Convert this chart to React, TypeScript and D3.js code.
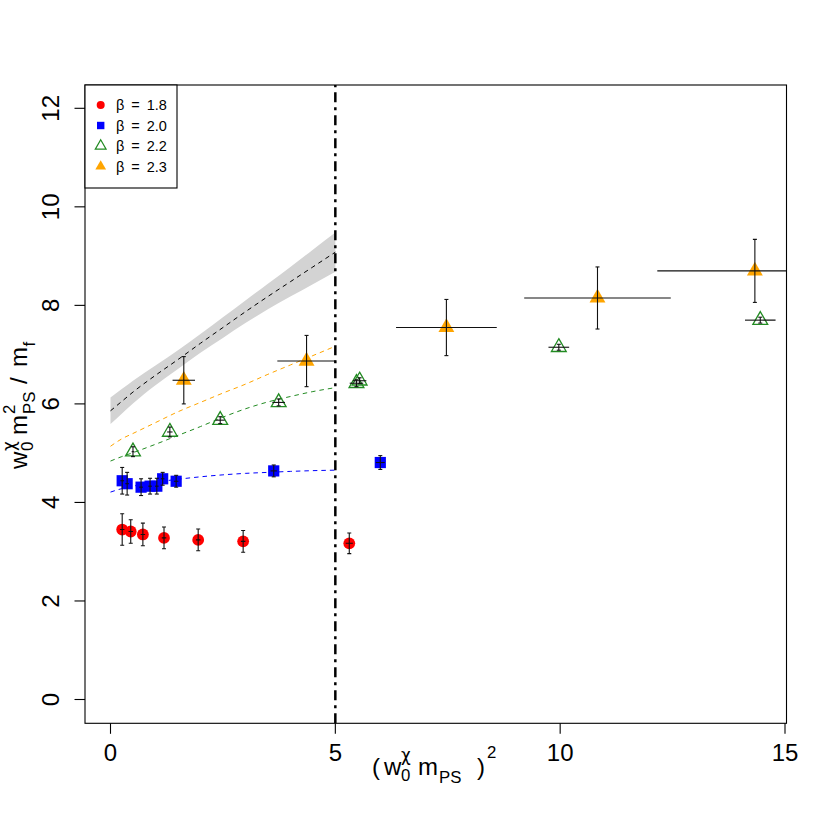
import React from 'react';
import * as d3 from 'd3';

// beta = 1.8 (red circles)
const b18X = [0.26, 0.45, 0.72, 1.19, 1.95, 2.95, 5.31];
const b18Y = [3.45, 3.41, 3.35, 3.28, 3.24, 3.21, 3.17];
const b18Ye = [0.32, 0.24, 0.23, 0.22, 0.22, 0.22, 0.21];
const b18Xe = [0.05, 0.05, 0.05, 0.05, 0.05, 0.05, 0.08];

// beta = 2.0 (blue squares)
const b20X = [0.26, 0.37, 0.68, 0.88, 1.03, 1.16, 1.46, 3.63, 6.0];
const b20Y = [4.44, 4.38, 4.31, 4.33, 4.33, 4.48, 4.43, 4.64, 4.81];
const b20Ye = [0.27, 0.23, 0.17, 0.16, 0.16, 0.13, 0.12, 0.12, 0.14];
const b20Xe = [0.04, 0.04, 0.04, 0.04, 0.04, 0.04, 0.05, 0.07, 0.1];

// beta = 2.2 (open green triangles)
const b22X = [0.5, 1.32, 2.44, 3.74, 5.47, 5.54, 9.97, 14.45];
const b22Y = [5.03, 5.43, 5.67, 6.03, 6.42, 6.47, 7.15, 7.7];
const b22Ye = [0.1, 0.1, 0.07, 0.07, 0.07, 0.06, 0.06, 0.06];
const b22Xe = [0.03, 0.06, 0.1, 0.14, 0.15, 0.15, 0.23, 0.34];

// beta = 2.3 (filled orange triangles)
const b23X = [1.63, 4.36, 7.47, 10.83, 14.33];
const b23Y = [6.48, 6.87, 7.55, 8.15, 8.7];
const b23Ye = [0.48, 0.52, 0.57, 0.63, 0.64];
const b23Xe = [0.25, 0.65, 1.12, 1.63, 2.17];

// fit curves
const fitX = [0, 0.25, 0.5, 1, 1.5, 2, 2.5, 3, 3.5, 4, 4.5, 5];
const fitB20 = [4.21, 4.28, 4.33, 4.41, 4.47, 4.52, 4.56, 4.59, 4.61, 4.63, 4.645, 4.655];
const fitB22 = [4.84, 4.93, 5.01, 5.18, 5.36, 5.54, 5.73, 5.9, 6.04, 6.15, 6.25, 6.33];
const fitB23 = [5.14, 5.29, 5.4, 5.62, 5.84, 6.03, 6.22, 6.4, 6.6, 6.79, 6.98, 7.17];
const fitCont = [5.86, 6.05, 6.24, 6.58, 6.9, 7.23, 7.55, 7.87, 8.18, 8.48, 8.78, 9.08];
const bandUpper = [6.13, 6.3, 6.47, 6.78, 7.09, 7.42, 7.76, 8.1, 8.44, 8.78, 9.13, 9.48];
const bandLower = [5.59, 5.8, 6.01, 6.38, 6.71, 7.04, 7.34, 7.64, 7.92, 8.18, 8.43, 8.68];

const xTicks = [0, 5, 10, 15];
const yTicks = [0, 2, 4, 6, 8, 10, 12];
const legendLabels = ['β \u2009= \u20091.8', 'β \u2009= \u20092.0', 'β \u2009= \u20092.2', 'β \u2009= \u20092.3'];
const cutX = 5;

const FONT = 'Liberation Sans, Arial, Helvetica, sans-serif';
const GREEKFONT = 'DejaVu Sans, Liberation Sans, sans-serif';
const RED = '#ff0000';
const BLUE = '#0000ff';
const GREEN = '#228b22';
const ORANGE = '#ffa500';

const PL = 85, PR = 786.5, PT = 85, PB = 723.3;

function triPath(cx: number, cy: number, xc: number) {
  return `M${cx},${cy - 1.555 * xc}L${cx + 1.3468 * xc},${cy + 0.7776 * xc}L${cx - 1.3468 * xc},${cy + 0.7776 * xc}Z`;
}

export default function App() {
  const x = d3.scaleLinear().domain([0, 15]).range([110.5, 785]);
  const y = d3.scaleLinear().domain([0, 12]).range([699.5, 108.3]);

  const line = (ys: number[]) =>
    d3.line<number>().x((_, i) => x(fitX[i])).y((d) => y(d)).curve(d3.curveMonotoneX)(ys) || '';
  const band = d3
    .area<number>()
    .x((_, i) => x(fitX[i]))
    .y0((_, i) => y(bandLower[i]))
    .y1((_, i) => y(bandUpper[i]))
    .curve(d3.curveMonotoneX)(fitX) || '';

  const errBars = (xs: number[], ys: number[], xe: number[], ye: number[], key: string) =>
    xs.map((xv, i) => {
      const cx = x(xv), cy = y(ys[i]);
      const y1 = y(ys[i] + ye[i]), y2 = y(ys[i] - ye[i]);
      const x1 = x(xv - xe[i]), x2 = x(xv + xe[i]);
      return (
        <g key={key + i} stroke="#111" strokeWidth={1.1} fill="none">
          <line x1={cx} x2={cx} y1={y1} y2={y2} />
          <line x1={cx - 2} x2={cx + 2} y1={y1} y2={y1} />
          <line x1={cx - 2} x2={cx + 2} y1={y2} y2={y2} />
          <line x1={x1} x2={x2} y1={cy} y2={cy} />
        </g>
      );
    });

  const sub = 16.8;

  return (
    <svg width={830} height={830} style={{ position: 'absolute', left: 0, top: 0, background: '#fff' }} fontFamily={FONT}>
      <rect x={0} y={0} width={830} height={830} fill="#fff" />
      <defs>
        <clipPath id="plotclip">
          <rect x={PL} y={PT} width={PR - PL} height={PB - PT} />
        </clipPath>
      </defs>

      <g clipPath="url(#plotclip)">
        <path d={band} fill="#d3d3d3" stroke="none" />
        <path d={line(fitCont)} fill="none" stroke="#000" strokeWidth={1} strokeDasharray="4.5,4" />
        <path d={line(fitB23)} fill="none" stroke={ORANGE} strokeWidth={1} strokeDasharray="4.5,4" />
        <path d={line(fitB22)} fill="none" stroke={GREEN} strokeWidth={1} strokeDasharray="4.5,4" />
        <path d={line(fitB20)} fill="none" stroke={BLUE} strokeWidth={1} strokeDasharray="4.5,4" />

        {b18X.map((xv, i) => (
          <circle key={'r' + i} cx={x(xv)} cy={y(b18Y[i])} r={5.9} fill={RED} />
        ))}
        {b20X.map((xv, i) => (
          <rect key={'b' + i} x={x(xv) - 5.6} y={y(b20Y[i]) - 5.6} width={11.2} height={11.2} fill={BLUE} />
        ))}
        {b22X.map((xv, i) => (
          <path key={'g' + i} d={triPath(x(xv), y(b22Y[i]), 5.5)} fill="none" stroke={GREEN} strokeWidth={1.3} />
        ))}
        {b23X.map((xv, i) => (
          <path key={'o' + i} d={triPath(x(xv), y(b23Y[i]), 5.9)} fill={ORANGE} />
        ))}

        {errBars(b18X, b18Y, b18Xe, b18Ye, 'er')}
        {errBars(b20X, b20Y, b20Xe, b20Ye, 'eb')}
        {errBars(b22X, b22Y, b22Xe, b22Ye, 'eg')}
        {errBars(b23X, b23Y, b23Xe, b23Ye, 'eo')}

        <line x1={x(cutX)} x2={x(cutX)} y1={PB} y2={PT} stroke="#000" strokeWidth={2.5} strokeDasharray="10,5,3,5" />
      </g>

      {/* box */}
      <rect x={PL} y={PT} width={PR - PL} height={PB - PT} fill="none" stroke="#000" strokeWidth={1.1} />

      {/* x axis */}
      {xTicks.map((t) => (
        <g key={'xt' + t}>
          <line x1={x(t)} x2={x(t)} y1={PB} y2={PB + 10.5} stroke="#000" strokeWidth={1.1} />
          <text x={x(t)} y={761} textAnchor="middle" fontSize={24}>{t}</text>
        </g>
      ))}
      {/* y axis */}
      {yTicks.map((t) => (
        <g key={'yt' + t}>
          <line x1={PL} x2={PL - 10.5} y1={y(t)} y2={y(t)} stroke="#000" strokeWidth={1.1} />
          <text transform={`translate(59,${y(t)}) rotate(-90)`} textAnchor="middle" fontSize={24}>{t}</text>
        </g>
      ))}

      {/* x label */}
      <text fontSize={24}>
        <tspan x={372} y={775}>(</tspan>
        <tspan x={384} y={775}>w</tspan>
        <tspan x={401} y={761} fontSize={sub} fontFamily={GREEKFONT}>χ</tspan>
        <tspan x={401} y={781} fontSize={sub}>0</tspan>
        <tspan x={418} y={775}>m</tspan>
        <tspan x={439} y={783} fontSize={sub}>PS</tspan>
        <tspan x={477} y={775}>)</tspan>
        <tspan x={487} y={758} fontSize={sub}>2</tspan>
      </text>

      {/* y label */}
      <g transform="translate(27,404) rotate(-90)">
        <text fontSize={24}>
          <tspan x={-65} y={0}>w</tspan>
          <tspan x={-47} y={-12} fontSize={sub} fontFamily={GREEKFONT}>χ</tspan>
          <tspan x={-47} y={6} fontSize={sub}>0</tspan>
          <tspan x={-31} y={0}>m</tspan>
          <tspan x={-10} y={-12} fontSize={sub}>2</tspan>
          <tspan x={-10} y={8} fontSize={sub}>PS</tspan>
          <tspan x={20} y={0}>/</tspan>
          <tspan x={37} y={0}>m</tspan>
          <tspan x={57.5} y={8} fontSize={sub}>f</tspan>
        </text>
      </g>

      {/* legend */}
      <rect x={PL} y={PT} width={92} height={103} fill="#fff" stroke="#000" strokeWidth={1.1} />
      {legendLabels.map((lab, i) => {
        const ly = 105 + i * 20.5;
        const lx = 100.7;
        let sym: React.ReactNode = null;
        if (i === 0) sym = <circle cx={lx} cy={ly} r={4} fill={RED} />;
        if (i === 1) sym = <rect x={lx - 3.7} y={ly - 3.7} width={7.4} height={7.4} fill={BLUE} />;
        if (i === 2) sym = <path d={triPath(lx, ly, 4)} fill="none" stroke={GREEN} strokeWidth={1.2} />;
        if (i === 3) sym = <path d={triPath(lx, ly, 4)} fill={ORANGE} />;
        return (
          <g key={'lg' + i}>
            {sym}
            <text x={116} y={ly + 5} fontSize={14.5} style={{ whiteSpace: 'pre' }}>{lab}</text>
          </g>
        );
      })}
    </svg>
  );
}
